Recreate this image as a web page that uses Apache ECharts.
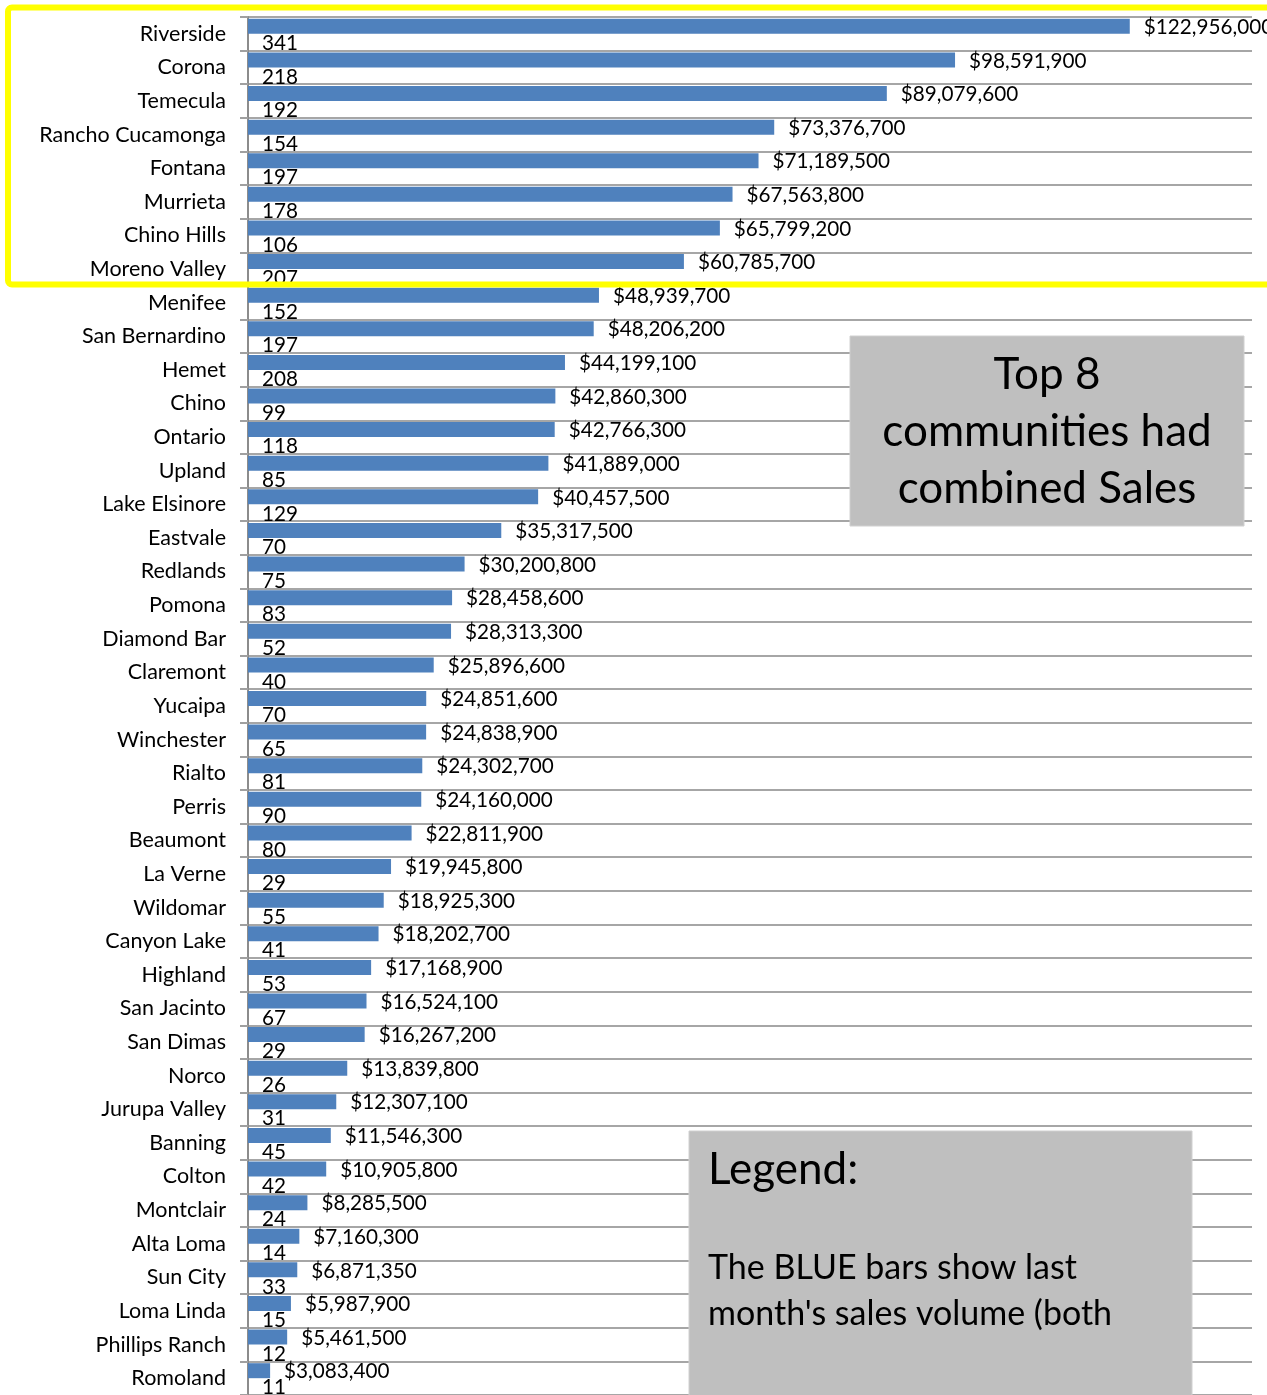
<!DOCTYPE html>
<html>
<head>
<meta charset="utf-8">
<script src="https://cdn.jsdelivr.net/npm/echarts@6/dist/echarts.min.js"></script>
<style>
html,body{margin:0;padding:0;background:#fff;}
#chart{width:1267px;height:1395px;}
</style>
</head>
<body>
<div id="chart"></div>
<script>
const communities = ["Riverside","Corona","Temecula","Rancho Cucamonga","Fontana","Murrieta","Chino Hills","Moreno Valley","Menifee","San Bernardino","Hemet","Chino","Ontario","Upland","Lake Elsinore","Eastvale","Redlands","Pomona","Diamond Bar","Claremont","Yucaipa","Winchester","Rialto","Perris","Beaumont","La Verne","Wildomar","Canyon Lake","Highland","San Jacinto","San Dimas","Norco","Jurupa Valley","Banning","Colton","Montclair","Alta Loma","Sun City","Loma Linda","Phillips Ranch","Romoland"];
const salesVolume = [122956000,98591900,89079600,73376700,71189500,67563800,65799200,60785700,48939700,48206200,44199100,42860300,42766300,41889000,40457500,35317500,30200800,28458600,28313300,25896600,24851600,24838900,24302700,24160000,22811900,19945800,18925300,18202700,17168900,16524100,16267200,13839800,12307100,11546300,10905800,8285500,7160300,6871350,5987900,5461500,3083400];
const salesCount = [341,218,192,154,197,178,106,207,152,197,208,99,118,85,129,70,75,83,52,40,70,65,81,90,80,29,55,41,53,67,29,26,31,45,42,24,14,33,15,12,11];
const boxText1 = "Top 8\ncommunities had\ncombined Sales";
const boxText2a = "Legend:";
const boxText2b = "The BLUE bars show last\nmonth's sales volume (both";

const FONT = "Lato";
const chart = echarts.init(document.getElementById('chart'), null, {renderer:'canvas'});
const fmt = v => '$' + Number(v).toLocaleString('en-US');
chart.setOption({
  animation:false,
  backgroundColor:'#ffffff',
  textStyle:{fontFamily:FONT},
  grid:{left:248, right:15, top:17, height:1381, containLabel:false},
  xAxis:{type:'value', min:0, max:140000000, show:false, splitLine:{show:false}},
  yAxis:{
    type:'category', inverse:true, data:communities,
    axisLine:{show:true, lineStyle:{color:'#8c8c8c', width:2}},
    axisTick:{show:true, length:8, lineStyle:{color:'#a0a0a0', width:2}},
    axisLabel:{margin:22, fontSize:21.5, color:'#000', fontFamily:FONT},
    splitLine:{show:true, lineStyle:{color:'#a6a6a6', width:2}}
  },
  series:[
    {name:'Sales Volume', type:'bar', data:salesVolume, barWidth:15, barGap:'0%',
     itemStyle:{color:'#4f81bd'},
     label:{show:true, position:'right', distance:14, offset:[0,1], fontSize:20.7, color:'#000', fontFamily:FONT, formatter:p=>fmt(p.value)}},
    {name:'Sales Count', type:'bar', data:salesCount, barWidth:15,
     itemStyle:{color:'rgba(0,0,0,0)'},
     label:{show:true, position:'right', distance:14, offset:[0,2], fontSize:20.7, color:'#000', fontFamily:FONT}}
  ],
  graphic:[
    {type:'rect', z:100, shape:{x:850, y:336, width:394, height:190}, style:{fill:'#bfbfbf', stroke:'#d0d0d0', lineWidth:1}},
    {type:'text', z:101, x:1047, y:432, style:{text:boxText1, fontFamily:FONT, fontSize:44, fill:'#000', align:'center', verticalAlign:'middle', lineHeight:57}},
    {type:'rect', z:100, shape:{x:689, y:1131, width:503, height:280}, style:{fill:'#bfbfbf', stroke:'#d0d0d0', lineWidth:1}},
    {type:'text', z:101, x:708, y:1170, style:{text:boxText2a, fontFamily:FONT, fontSize:44, fill:'#000', align:'left', verticalAlign:'middle'}},
    {type:'text', z:101, x:708, y:1291, style:{text:boxText2b, fontFamily:FONT, fontSize:34, fill:'#000', align:'left', verticalAlign:'middle', lineHeight:46}},
    {type:'rect', z:110, shape:{x:8, y:7.5, width:1300, height:277, r:4}, style:{fill:null, stroke:'#ffff00', lineWidth:6}}
  ]
});
</script>
</body>
</html>
